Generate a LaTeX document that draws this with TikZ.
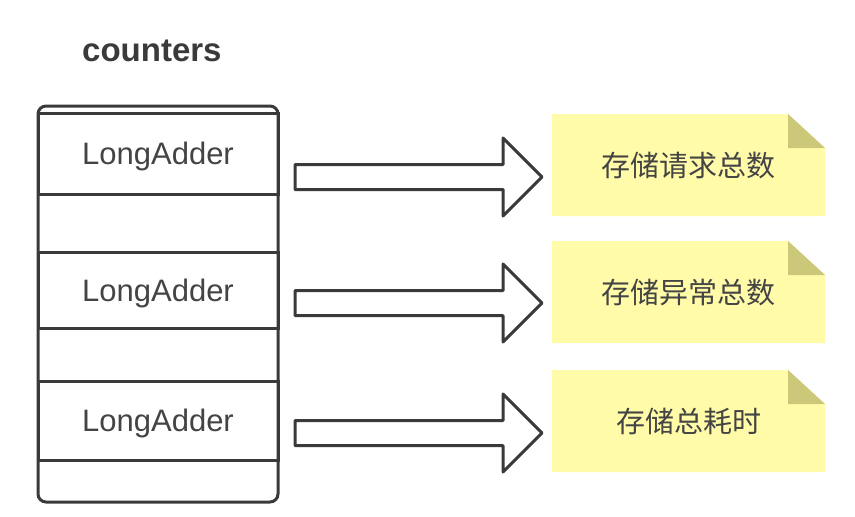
\documentclass[tikz,border=0pt]{standalone}
\usepackage{fontspec}
\setmainfont{Liberation Sans}
\newfontfamily\cjk{Noto Sans CJK SC}
\usetikzlibrary{calc}
\definecolor{linec}{HTML}{3A3A3A}
\definecolor{textc}{HTML}{444444}
\definecolor{notefill}{HTML}{FFFBA8}
\definecolor{foldfill}{HTML}{CCC87A}
\newcommand\blockarrowpath[2]{%
  ($(#1)+(0,-12.5)$) -- ($(#2)+(-39,-12.5)$) -- ($(#2)+(-39,-39)$) -- (#2) --
  ($(#2)+(-39,39)$) -- ($(#2)+(-39,12.5)$) -- ($(#1)+(0,12.5)$) -- cycle}
\tikzset{
  outerbox/.style={draw=linec, line width=3pt, rounded corners=8pt, minimum width=240pt, minimum height=396pt, inner sep=0pt},
  cellbox/.style={draw=linec, line width=3pt, minimum width=240pt, inner sep=0pt, text=textc, text depth=0pt, font=\fontsize{31}{33}\selectfont},
  barrow/.style={draw=linec, line width=3pt, line join=round, fill=white},
  notebox/.style={minimum width=273pt, minimum height=102pt, inner sep=0pt, text=textc,
    font=\cjk\fontsize{29}{32}\selectfont,
    path picture={
      \fill[notefill] (path picture bounding box.north west) -- ([xshift=-37pt]path picture bounding box.north east)
        -- ([yshift=-34pt]path picture bounding box.north east) -- (path picture bounding box.south east)
        -- (path picture bounding box.south west) -- cycle;
      \fill[foldfill] ([xshift=-37pt]path picture bounding box.north east) -- ([xshift=-37pt,yshift=-34pt]path picture bounding box.north east)
        -- ([yshift=-34pt]path picture bounding box.north east) -- cycle;
    }},
  titletext/.style={text=linec, font=\bfseries\fontsize{33}{35}\selectfont, inner sep=0pt}
}
\begin{document}
\begin{tikzpicture}[x=1pt,y=-1pt]
\useasboundingbox (0,0) rectangle (855,517);
\node[titletext, anchor=base west] (title) at (82,61) {counters};
\node[outerbox] (box) at (158,304) {};
\node[cellbox, minimum height=81pt] (c1) at (158,153.5) {LongAdder};
\node[cellbox, minimum height=76pt] (c2) at (158,290) {LongAdder};
\node[cellbox, minimum height=79pt] (c3) at (158,420.5) {LongAdder};
\node[notebox] (n1) at (688.5,165) {存储请求总数};
\node[notebox] (n2) at (688.5,292) {存储异常总数};
\node[notebox] (n3) at (688.5,421) {存储总耗时};
\coordinate (a1s) at (295,177); \coordinate (a1t) at (542,177);
\coordinate (a2s) at (295,303); \coordinate (a2t) at (542,303);
\coordinate (a3s) at (295,433); \coordinate (a3t) at (542,433);
\draw[barrow] \blockarrowpath{a1s}{a1t};
\draw[barrow] \blockarrowpath{a2s}{a2t};
\draw[barrow] \blockarrowpath{a3s}{a3t};
\end{tikzpicture}
\end{document}
